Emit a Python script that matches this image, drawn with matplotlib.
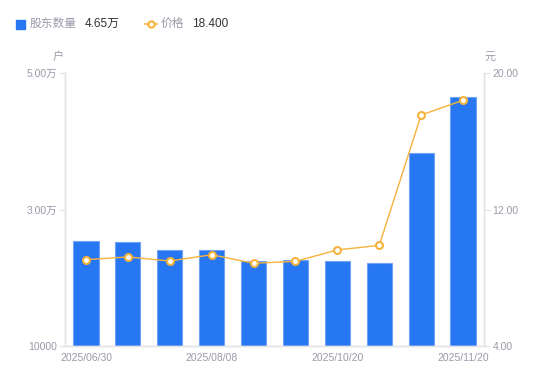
import matplotlib
matplotlib.use("Agg")
import matplotlib.pyplot as plt
from matplotlib.lines import Line2D
from matplotlib.patches import Rectangle

plt.rcParams['font.family'] = ['Liberation Sans', 'Noto Sans CJK SC', 'DejaVu Sans']

dates = ["2025/06/30", "2025/07/10", "2025/07/20", "2025/08/08", "2025/08/31",
         "2025/09/30", "2025/10/20", "2025/10/31", "2025/11/10", "2025/11/20"]
holders = [25400, 25250, 24050, 24050, 22450, 22600, 22450, 22100, 38300, 46500]
price = [9.06, 9.22, 8.98, 9.35, 8.85, 8.96, 9.63, 9.90, 17.54, 18.40]
shown_labels = {0, 3, 6, 9}

left_ticks = [10000, 30000, 50000]
left_labels = ["10000", "3.00万", "5.00万"]
right_ticks = [4, 12, 20]
right_labels = ["4.00", "12.00", "20.00"]

gray = "#9a9aaa"
axis_c = "#e3e3e8"
blue = "#2776f2"
orange = "#f7b23b"

fig = plt.figure(figsize=(5.5, 3.81), dpi=100)
ax = fig.add_axes([65/550, 35/381, 419/550, 273/381])
ax2 = ax.twinx()

x = list(range(len(dates)))
ax.bar(x, holders, width=0.6, color=blue, edgecolor="#6ea3f5", linewidth=0.8, zorder=2)
ax.set_xlim(-0.5, len(dates) - 0.5)
ax.set_ylim(10000, 50000)
ax.set_yticks(left_ticks)
ax.set_yticklabels(left_labels)
ax.set_xticks(x)
ax.set_xticklabels([d if i in shown_labels else "" for i, d in enumerate(dates)])

ax2.plot(x, price, color=orange, linewidth=1, marker="o", markersize=5,
         markerfacecolor="white", markeredgecolor=orange, markeredgewidth=1.5, zorder=3)
ax2.set_ylim(4, 20)
ax2.set_yticks(right_ticks)
ax2.set_yticklabels(right_labels)

for a in (ax, ax2):
    for s in a.spines.values():
        s.set_color(axis_c)
        s.set_linewidth(1)
    a.spines['top'].set_visible(False)
    a.tick_params(colors=gray, labelsize=7.5, length=4, width=0.8, color=axis_c)
ax.tick_params(axis='x', length=0, pad=5)
ax.tick_params(axis='y', pad=2)
ax2.tick_params(axis='y', pad=2)
ax.set_zorder(ax2.get_zorder() - 1)
ax2.patch.set_visible(False)

fig.text(58/550, 1 - 57/381, "户", color=gray, fontsize=8, ha="center", va="center")
fig.text(490/550, 1 - 57/381, "元", color=gray, fontsize=8, ha="center", va="center")

# legend
ly = 1 - 24/381
fig.add_artist(Rectangle((16/550, 1 - 29/381), 9/550, 9/381, transform=fig.transFigure,
                         color=blue))
fig.text(30/550, ly, "股东数量", color=gray, fontsize=8.5, va="center")
fig.text(85/550, ly, "4.65万", color="#333333", fontsize=8.5, va="center")
fig.add_artist(Line2D([145/550, 157/550], [ly, ly], transform=fig.transFigure,
                      color=orange, linewidth=1.2))
fig.add_artist(Line2D([151/550], [ly], transform=fig.transFigure,
                      color=orange, marker="o", markersize=4.5, linestyle="none",
                      markerfacecolor="white", markeredgewidth=1.5))
fig.text(161/550, ly, "价格", color=gray, fontsize=8.5, va="center")
fig.text(192/550, ly, "18.400", color="#333333", fontsize=8.5, va="center")

fig.savefig("out.png", dpi=100)
